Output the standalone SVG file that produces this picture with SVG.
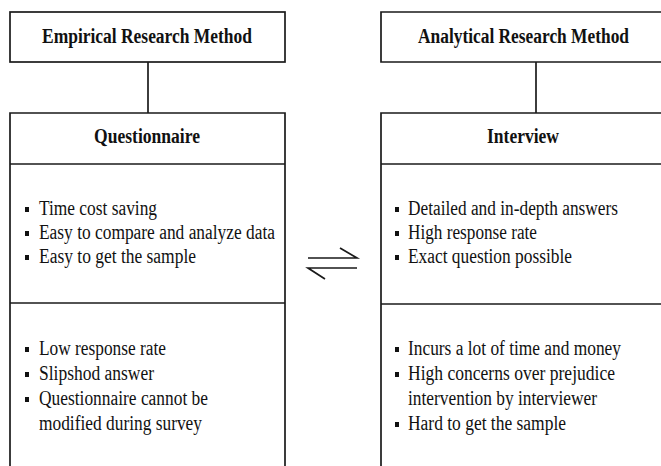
<svg xmlns="http://www.w3.org/2000/svg" width="661" height="466" viewBox="0 0 661 466">
<style>
.box{fill:none;stroke:#1a1a1a;stroke-width:1.7}
.ln{stroke:#1a1a1a;stroke-width:1.7;fill:none}
.t{font-family:"Liberation Serif",serif;font-size:20.5px;fill:#111}
.h{font-family:"Liberation Serif",serif;font-size:20.5px;font-weight:bold;fill:#111}
.b{fill:#111}
</style>
<rect width="661" height="466" fill="#fff"/>
<g id="connectors">
<line class="ln" x1="148" y1="62" x2="148" y2="113"/>
<line class="ln" x1="536" y1="62" x2="536" y2="113"/>
<g id="equilibrium">
<path class="ln" d="M308 258 H357 L340 248" stroke-width="2.2"/>
<path class="ln" d="M357 268 H308 L325 279" stroke-width="2.2"/>
</g>
</g>
<g id="empirical">
<rect class="box" x="10" y="12" width="275" height="50"/>
<text class="h" x="42" y="43" textLength="210" lengthAdjust="spacingAndGlyphs">Empirical Research Method</text>
</g>
<g id="analytical">
<path class="box" d="M664 12 H381 V62 H664"/>
<text class="h" x="418" y="43" textLength="211" lengthAdjust="spacingAndGlyphs">Analytical Research Method</text>
</g>
<g id="questionnaire">
<path class="box" d="M10 470 V113 H285 V470"/>
<line class="ln" x1="10" y1="164" x2="285" y2="164"/>
<line class="ln" x1="10" y1="303" x2="285" y2="303"/>
<text class="h" x="94" y="143" textLength="106" lengthAdjust="spacingAndGlyphs">Questionnaire</text>
<rect class="b" x="25" y="207" width="4" height="5"/>
<text class="t" x="39" y="215" textLength="118" lengthAdjust="spacingAndGlyphs">Time cost saving</text>
<rect class="b" x="25" y="231" width="4" height="5"/>
<text class="t" x="39" y="239" textLength="236" lengthAdjust="spacingAndGlyphs">Easy to compare and analyze data</text>
<rect class="b" x="25" y="255" width="4" height="5"/>
<text class="t" x="39" y="263" textLength="157" lengthAdjust="spacingAndGlyphs">Easy to get the sample</text>
<rect class="b" x="25" y="347" width="4" height="5"/>
<text class="t" x="39" y="355" textLength="127" lengthAdjust="spacingAndGlyphs">Low response rate</text>
<rect class="b" x="25" y="372" width="4" height="5"/>
<text class="t" x="39" y="380" textLength="115" lengthAdjust="spacingAndGlyphs">Slipshod answer</text>
<rect class="b" x="25" y="397" width="4" height="5"/>
<text class="t" x="39" y="405" textLength="169" lengthAdjust="spacingAndGlyphs">Questionnaire cannot be</text>
<text class="t" x="39" y="430" textLength="163" lengthAdjust="spacingAndGlyphs">modified during survey</text>
</g>
<g id="interview">
<path class="box" d="M664 113 H381 V470"/>
<line class="ln" x1="381" y1="164" x2="664" y2="164"/>
<line class="ln" x1="381" y1="304" x2="664" y2="304"/>
<text class="h" x="487" y="143" textLength="72" lengthAdjust="spacingAndGlyphs">Interview</text>
<rect class="b" x="395" y="207" width="4" height="5"/>
<text class="t" x="408" y="215" textLength="210" lengthAdjust="spacingAndGlyphs">Detailed and in-depth answers</text>
<rect class="b" x="395" y="231" width="4" height="5"/>
<text class="t" x="408" y="239" textLength="129" lengthAdjust="spacingAndGlyphs">High response rate</text>
<rect class="b" x="395" y="255" width="4" height="5"/>
<text class="t" x="408" y="263" textLength="164" lengthAdjust="spacingAndGlyphs">Exact question possible</text>
<rect class="b" x="395" y="347" width="4" height="5"/>
<text class="t" x="408" y="355" textLength="213" lengthAdjust="spacingAndGlyphs">Incurs a lot of time and money</text>
<rect class="b" x="395" y="372" width="4" height="5"/>
<text class="t" x="408" y="380" textLength="207" lengthAdjust="spacingAndGlyphs">High concerns over prejudice</text>
<text class="t" x="408" y="405" textLength="189" lengthAdjust="spacingAndGlyphs">intervention by interviewer</text>
<rect class="b" x="395" y="422" width="4" height="5"/>
<text class="t" x="408" y="430" textLength="158" lengthAdjust="spacingAndGlyphs">Hard to get the sample</text>
</g>
</svg>
